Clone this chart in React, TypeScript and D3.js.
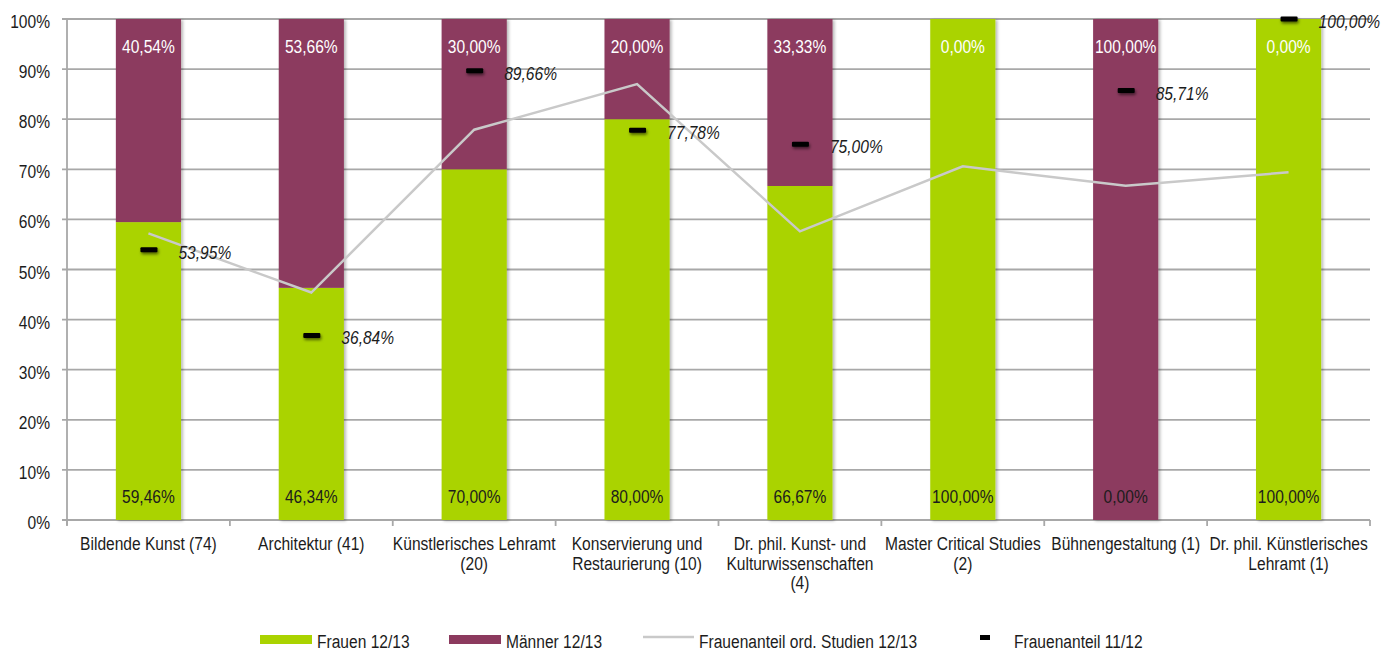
import React from "react";
import * as d3 from "d3";

const categories: string[][] = [
  ["Bildende Kunst (74)"],
  ["Architektur (41)"],
  ["Künstlerisches Lehramt", "(20)"],
  ["Konservierung und", "Restaurierung (10)"],
  ["Dr. phil. Kunst- und", "Kulturwissenschaften", "(4)"],
  ["Master Critical Studies", "(2)"],
  ["Bühnengestaltung (1)"],
  ["Dr. phil. Künstlerisches", "Lehramt (1)"],
];
const frauen1213 = [59.46, 46.34, 70.0, 80.0, 66.67, 100.0, 0.0, 100.0];
const maenner1213 = [40.54, 53.66, 30.0, 20.0, 33.33, 0.0, 100.0, 0.0];
const ordStudien1213 = [57.2, 45.4, 77.9, 87.0, 57.6, 70.6, 66.7, 69.4];
const frauen1112: (number | null)[] = [53.95, 36.84, 89.66, 77.78, 75.0, null, 85.71, 100.0];
const yTicks = [0, 10, 20, 30, 40, 50, 60, 70, 80, 90, 100];
const legendLabels = ["Frauen 12/13", "Männer 12/13", "Frauenanteil ord. Studien 12/13", "Frauenanteil 11/12"];

const GREEN = "#aad300";
const PURPLE = "#8c3a5e";
const LINE = "#c9c9c9";
const GRID = "#a8a8a8";
const TEXT = "#1c1c1c";
const FONT = "'Liberation Sans', Arial, sans-serif";
const SX = 0.82;

const fmt = (v: number) => v.toFixed(2).replace(".", ",") + "%";

type TProps = {
  x: number;
  y: number;
  anchor?: "start" | "middle" | "end";
  size?: number;
  fill?: string;
  italic?: boolean;
  children: React.ReactNode;
};
function T({ x, y, anchor = "start", size = 19, fill = TEXT, italic = false, children }: TProps) {
  return (
    <text
      transform={`translate(${x},${y}) scale(${SX},1)`}
      textAnchor={anchor}
      fontSize={size}
      fill={fill}
      fontStyle={italic ? "italic" : "normal"}
    >
      {children}
    </text>
  );
}

export default function App() {
  const left = 67, right = 1370, top = 19, bottom = 520;
  const idx = categories.map((_, i) => String(i));
  const x = d3.scaleBand<string>().domain(idx).range([left, right]).paddingInner(0.6).paddingOuter(0.3);
  const y = d3.scaleLinear().domain([0, 100]).range([bottom, top]);
  const step = x.step();
  const bw = x.bandwidth();
  const cx = (i: number) => (x(String(i)) as number) + bw / 2;

  const line = d3
    .line<number>()
    .x((_, i) => cx(i))
    .y((d) => y(d));

  return (
    <svg width={1400} height={651} style={{ position: "absolute", left: 0, top: 0, background: "#fff" }} fontFamily={FONT}>
      <defs>
        <filter id="barShadow" x="-20%" y="-5%" width="140%" height="110%">
          <feDropShadow dx="2" dy="1" stdDeviation="1.8" floodColor="#000" floodOpacity="0.28" />
        </filter>
        <filter id="mkShadow" x="-50%" y="-100%" width="200%" height="400%">
          <feDropShadow dx="1" dy="2" stdDeviation="1.5" floodColor="#000" floodOpacity="0.55" />
        </filter>
      </defs>

      {/* gridlines & y ticks */}
      {yTicks.map((t) => (
        <g key={t}>
          <line x1={left - 5} x2={right} y1={y(t)} y2={y(t)} stroke={GRID} strokeWidth={1.8} />
          <T x={50} y={y(t) + 9} anchor="end">
            {t}%
          </T>
        </g>
      ))}
      {/* y axis */}
      <line x1={left} x2={left} y1={top} y2={bottom + 5} stroke={GRID} strokeWidth={1.8} />
      {/* category ticks */}
      {d3.range(categories.length + 1).map((i) => (
        <line key={i} x1={left + i * step} x2={left + i * step} y1={bottom} y2={bottom + 6} stroke={GRID} strokeWidth={1.8} />
      ))}

      {/* bars */}
      {categories.map((_, i) => {
        const x0 = x(String(i)) as number;
        const f = frauen1213[i];
        const m = maenner1213[i];
        return (
          <g key={i} filter="url(#barShadow)">
            {f > 0 && <rect x={x0} y={y(f)} width={bw} height={y(0) - y(f)} fill={GREEN} />}
            {m > 0 && <rect x={x0} y={y(f + m)} width={bw} height={y(f) - y(f + m)} fill={PURPLE} />}
          </g>
        );
      })}

      {/* bar labels */}
      {categories.map((_, i) => (
        <g key={i}>
          <T x={cx(i)} y={y(100) + 34} anchor="middle" fill="#ffffff">
            {fmt(maenner1213[i])}
          </T>
          <T x={cx(i)} y={y(0) - 17} anchor="middle">
            {fmt(frauen1213[i])}
          </T>
        </g>
      ))}

      {/* ord. Studien line */}
      <path d={line(ordStudien1213) || ""} fill="none" stroke={LINE} strokeWidth={2.5} />

      {/* 11/12 markers */}
      {frauen1112.map((v, i) =>
        v === null ? null : (
          <g key={i}>
            <rect x={cx(i) - 8} y={y(v) - 2.5} width={17} height={5} fill="#000" rx={1} filter="url(#mkShadow)" />
            <T x={cx(i) + 30} y={y(v) + 9} italic>
              {fmt(v)}
            </T>
          </g>
        )
      )}

      {/* x labels */}
      {categories.map((lines, i) => (
        <g key={i}>
          {lines.map((l, j) => (
            <T key={j} x={cx(i)} y={550 + j * 19.5} anchor="middle">
              {l}
            </T>
          ))}
        </g>
      ))}

      {/* legend */}
      <g>
        <rect x={260} y={635} width={52} height={9} fill={GREEN} />
        <T x={317} y={648}>{legendLabels[0]}</T>
        <rect x={449} y={635} width={52} height={9} fill={PURPLE} />
        <T x={506} y={648}>{legendLabels[1]}</T>
        <line x1={643} x2={694} y1={637} y2={637} stroke={LINE} strokeWidth={2.5} />
        <T x={699} y={648}>{legendLabels[2]}</T>
        <rect x={980} y={635} width={10} height={5} fill="#000" />
        <T x={1014} y={648}>{legendLabels[3]}</T>
      </g>
    </svg>
  );
}
